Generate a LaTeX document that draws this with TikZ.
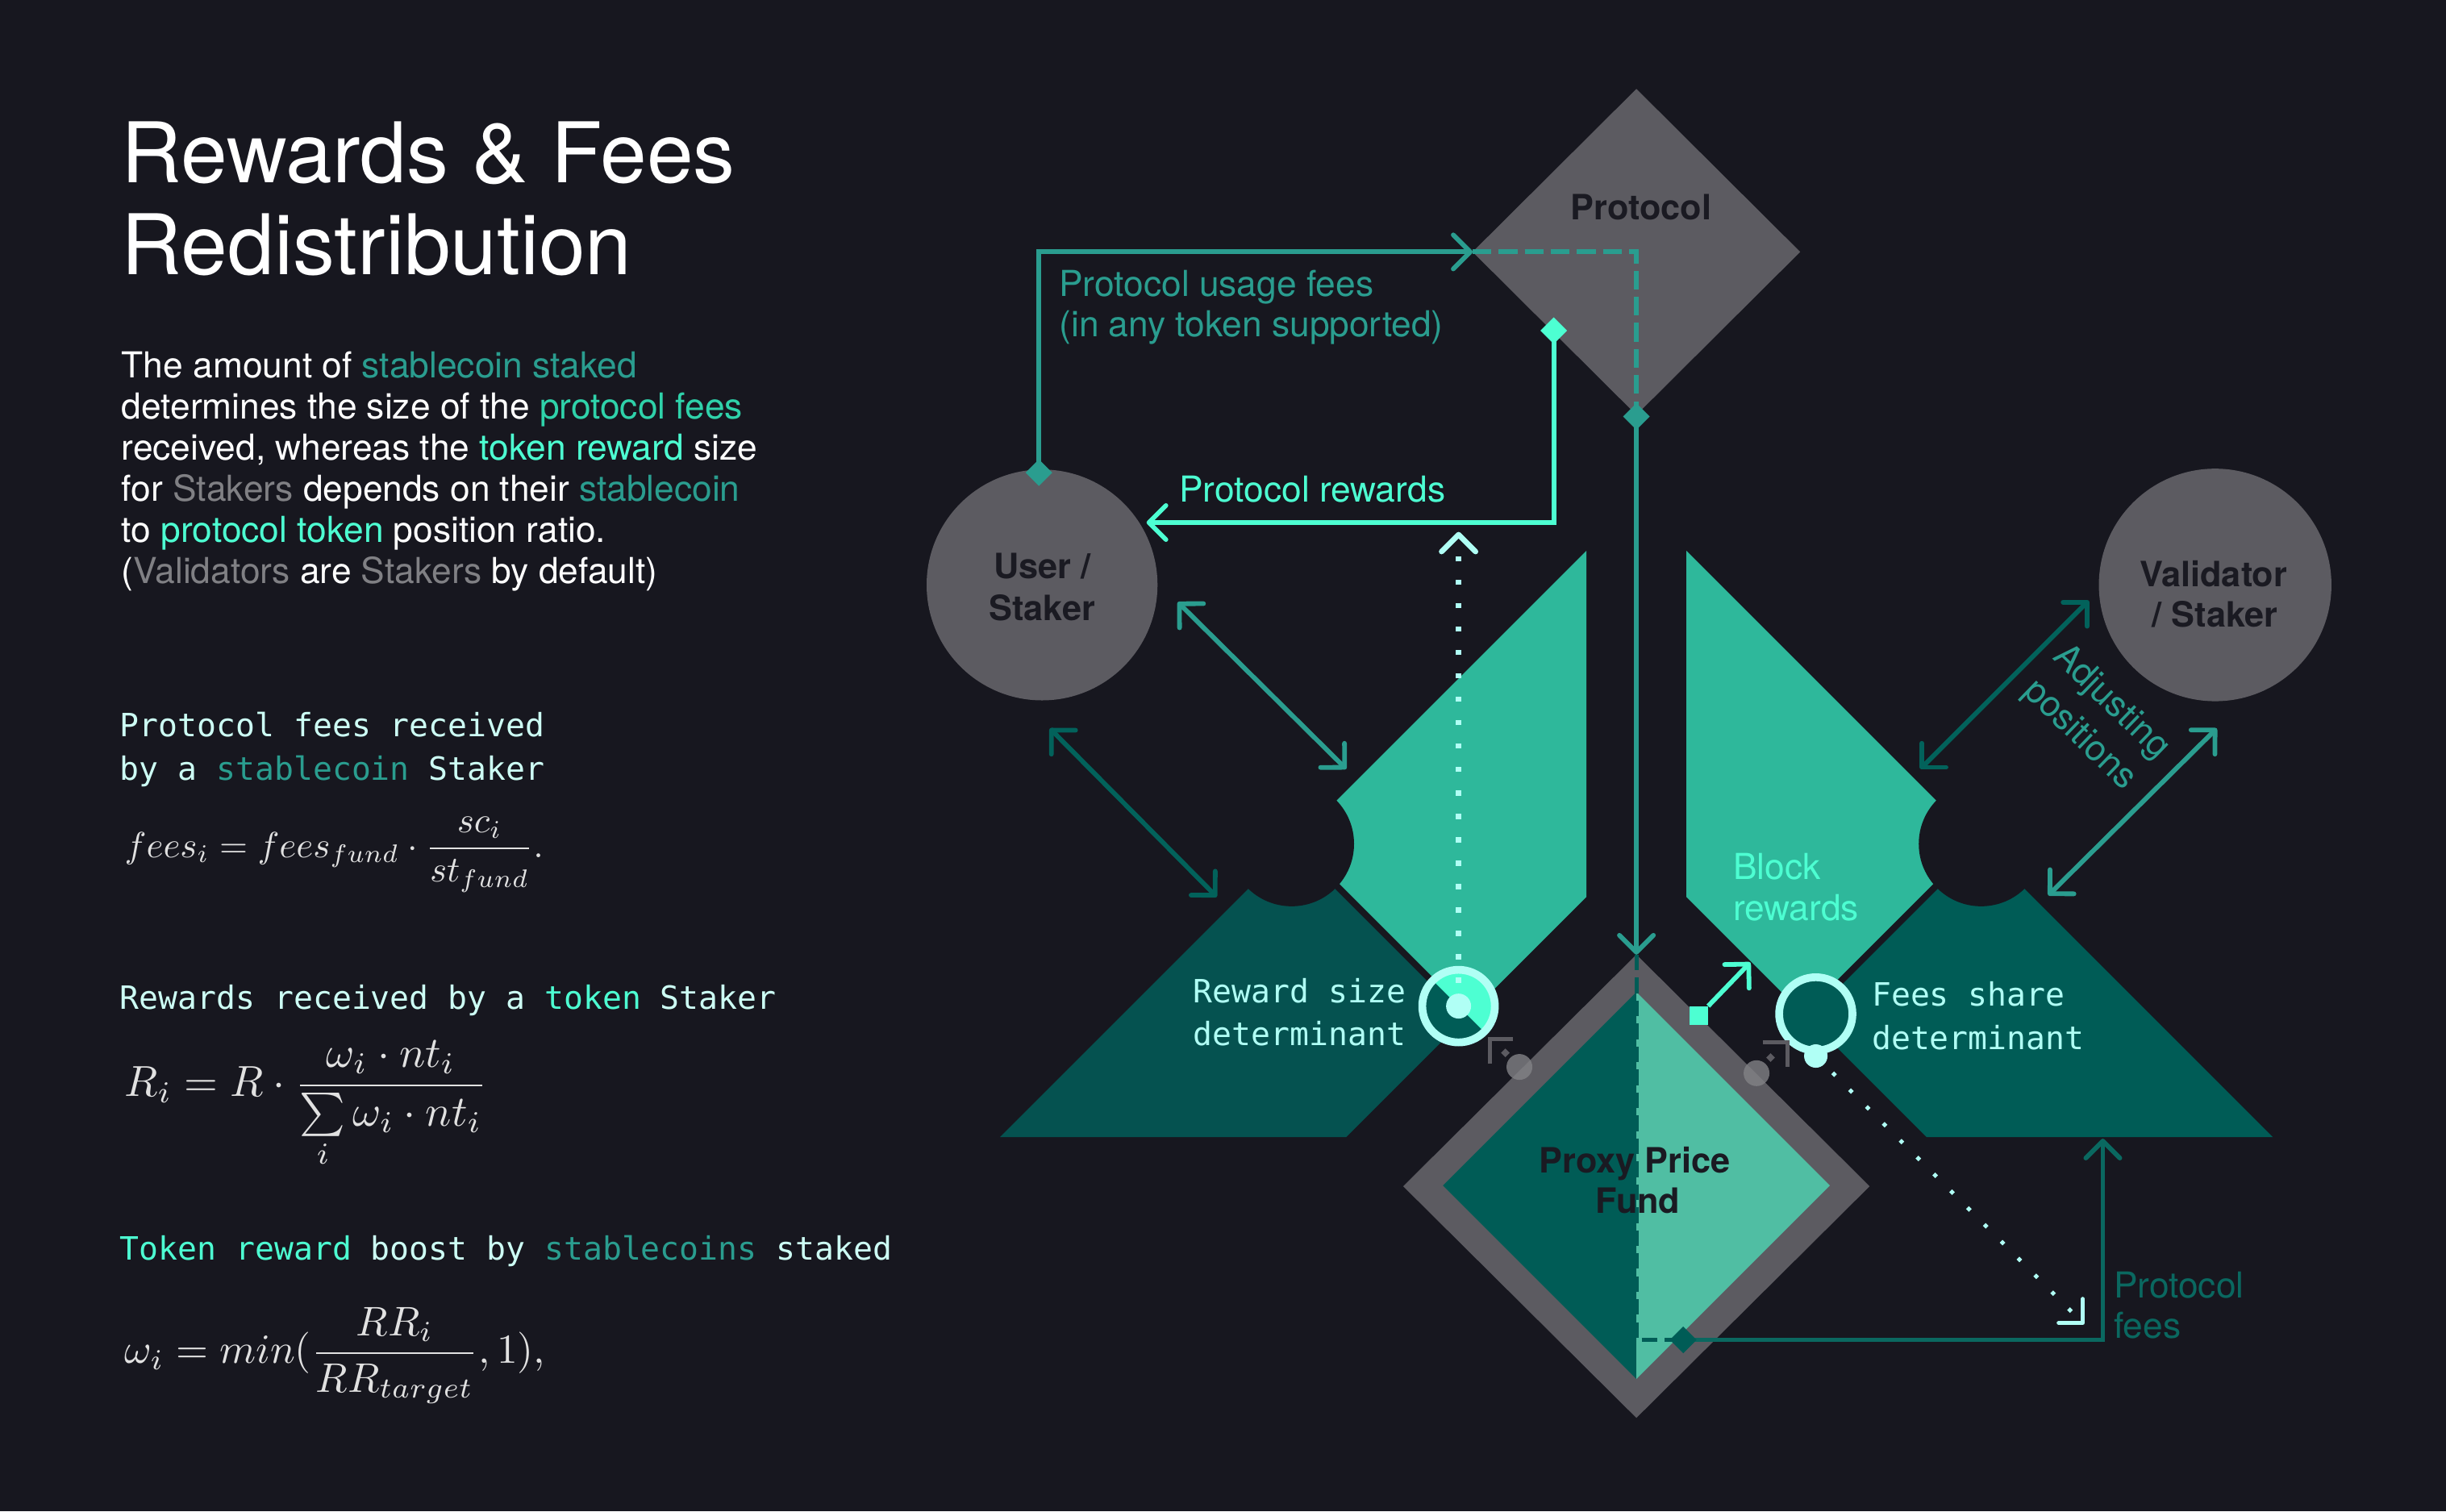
\documentclass[tikz,border=0pt]{standalone}
\usepackage[no-math]{fontspec}
\setmainfont{TeX Gyre Heros}
\setmonofont{DejaVu Sans Mono}
\usetikzlibrary{arrows.meta,shapes.geometric}
\definecolor{bg}{RGB}{23,23,31}
\definecolor{mint}{RGB}{77,255,210}
\definecolor{teallight}{RGB}{46,184,155}
\definecolor{tealmid}{RGB}{42,157,143}
\definecolor{tealbright}{RGB}{47,210,170}
\definecolor{tealdarkL}{RGB}{5,82,80}
\definecolor{tealdark}{RGB}{0,92,86}
\definecolor{tealdarkA}{RGB}{2,98,91}
\definecolor{tealfund}{RGB}{80,190,163}
\definecolor{stone}{RGB}{92,91,97}
\definecolor{pale}{RGB}{176,255,245}
\definecolor{ink}{RGB}{26,26,34}
\definecolor{mutedgray}{RGB}{128,128,132}
\definecolor{mathgray}{RGB}{225,225,225}
\definecolor{monowhite}{RGB}{205,255,245}
\definecolor{protofees}{RGB}{10,104,96}
\definecolor{hovergray}{RGB}{130,130,134}
\tikzset{
  vtip/.tip={Straight Barb[length=6pt,width=12pt,round]},
  flow/.style={line width=1.65pt},
  dashtop/.style={line width=1.65pt, tealmid, dash pattern=on 6.6pt off 2.6pt},
  funddash/.style={line width=1.4pt, tealdark, dash pattern=on 5.5pt off 2.6pt},
  dotline/.style={line width=1.9pt, pale, dash pattern=on 1.9pt off 6.35pt},
  diagdot/.style={line width=1.4pt, pale, dash pattern=on 1.4pt off 7pt},
  marker/.style={diamond, minimum width=9.4pt, minimum height=9.4pt},
  lab/.style={font=\bfseries\fontsize{12.3}{14}\selectfont, text=ink},
  body/.style={font=\fontsize{12.6}{14.5}\selectfont, text=white, anchor=base west},
  mono/.style={font=\ttfamily\fontsize{11.3}{15}\selectfont, text=monowhite, anchor=base west},
  titletext/.style={font=\fontsize{29.5}{32}\selectfont, text=white, anchor=base west},
  eq/.style={text=mathgray, anchor=west},
}
\begin{document}
\begin{tikzpicture}[x=0.55pt,y=-0.55pt, every node/.style={inner sep=0pt,outer sep=0pt}]
\fill[bg] (0,0) rectangle (1568,969);
\useasboundingbox (0,0) rectangle (1568,969);

% ---------- left column text ----------
\node[titletext] (title1) at (78,117) {Rewards \& Fees};
\node[titletext] (title2) at (78,176) {Redistribution};

\node[body] (b1) at (78,242) {The amount of \textcolor{tealmid}{stablecoin staked}};
\node[body] (b2) at (78,268.4) {determines the size of the \textcolor{tealbright}{protocol fees}};
\node[body] (b3) at (78,294.8) {received, whereas the \textcolor{mint}{token reward} size};
\node[body] (b4) at (78,321.2) {for \textcolor{mutedgray}{Stakers} depends on their \textcolor{tealmid}{stablecoin}};
\node[body] (b5) at (78,347.6) {to \textcolor{mint}{protocol token} position ratio.};
\node[body] (b6) at (78,374) {(\textcolor{mutedgray}{Validators} are \textcolor{mutedgray}{Stakers} by default)};

\node[mono] (h1a) at (77,472) {Protocol fees received};
\node[mono] (h1b) at (77,500) {by a \textcolor{tealmid}{stablecoin} Staker};
\node[eq, scale=1.28] (eqFees) at (80,548) {$\displaystyle fees_i = fees_{fund}\cdot\frac{sc_i}{st_{fund}}.$};

\node[mono] (h2) at (77,647) {Rewards received by a \textcolor{mint}{token} Staker};
\node[eq, scale=1.53] (eqR) at (80,708) {$\displaystyle R_i = R\cdot\frac{\omega_i\cdot nt_i}{\sum\limits_i\omega_i\cdot nt_i}$};

\node[mono] (h3) at (77,808) {\textcolor{mint}{Token reward} boost by \textcolor{tealmid}{stablecoins} staked};
\node[eq, scale=1.46] (eqW) at (80,869) {$\displaystyle \omega_i = min(\frac{RR_i}{RR_{target}},1),$};

% ---------- coloured bands ----------
\fill[teallight] (831,539) -- (942,650) -- (1017,575) -- (1017,353) -- cycle;
\fill[tealdarkL] (828,542) -- (641,729) -- (863,729) -- (939,653) -- cycle;
\fill[teallight] (1081,353) -- (1267,539) -- (1156,650) -- (1081,575) -- cycle;
\fill[tealdark] (1270,542) -- (1457,729) -- (1235,729) -- (1159,653) -- cycle;
\fill[bg] (828,541) circle [radius=40];
\fill[bg] (1270,541) circle [radius=40];

% ---------- main shapes ----------
\node[diamond, fill=stone, minimum width=164.45pt, minimum height=163.35pt] (proxy) at (1049,760.5) {};
\fill[tealdark] (1049,636) -- (925,760) -- (1049,884) -- cycle;
\fill[tealfund] (1049,636) -- (1173,760) -- (1049,884) -- cycle;

\node[diamond, fill=stone, minimum width=115.5pt, minimum height=114.95pt] (protocol) at (1049,161.5) {};
\node[circle, fill=stone, minimum size=81.4pt] (user) at (668,375) {};
\node[circle, fill=stone, minimum size=82pt] (validator) at (1420,375) {};

% ---------- coordinates ----------
\coordinate (cUser) at (666,303);
\coordinate (cRw) at (996,212);
\coordinate (cProto) at (1049,267);
\coordinate (fundTurn) at (1049,859);
\coordinate (cFund) at (1079,859);
\coordinate (feesIn) at (1348,730);
\coordinate (userIn) at (735,335);
\coordinate (dotTop) at (935,341);
\coordinate (feesEnd) at (1336,849);
\coordinate (mintTip) at (1122,617);
\coordinate (uA1) at (755,386);
\coordinate (uA2) at (863,493);
\coordinate (uB1) at (673,467);
\coordinate (uB2) at (780,575);
\coordinate (vA1) at (1339,385);
\coordinate (vA2) at (1231,493);
\coordinate (vB1) at (1421,467);
\coordinate (vB2) at (1313,574);

% ---------- reward size circle ----------
\coordinate (rwC) at (935,645);
\fill[tealdark] (rwC) circle [radius=24];
\begin{scope}
  \clip (rwC) circle [radius=24];
  \fill[mint] (rwC) ++(-40,-40) -- ++(80,80) -- ++(0,-80) -- cycle;
\end{scope}

% ---------- connectors ----------
\draw[flow, tealmid, -{vtip}] (cUser) |- (protocol.west);
\draw[dashtop] (protocol.west) -| (cProto);
\draw[flow, tealmid, -{vtip}] (cProto) -- (proxy.north);
\draw[funddash] (proxy.north) -- (fundTurn) -- (cFund);
\draw[flow, protofees, -{vtip}] (cFund) -| (feesIn);
\draw[flow, mint, -{vtip}] (cRw) |- (userIn);
\draw[dotline, -{vtip}] (rwC) -- (dotTop);

\draw[flow, tealmid, {vtip}-{vtip}] (uA1) -- (uA2);
\draw[flow, tealdarkA, {vtip}-{vtip}] (uB1) -- (uB2);
\draw[flow, tealdarkA, {vtip}-{vtip}] (vA1) -- (vA2);
\draw[flow, tealmid, {vtip}-{vtip}] (vB1) -- (vB2);

% ---------- circles on top ----------
\node[circle, draw=pale, line width=2.75pt, minimum size=25.6pt] (reward) at (rwC) {};
\node[circle, fill=pale, minimum size=8.8pt] (rwDot) at (rwC) {};
\node[circle, draw=pale, fill=tealdark, line width=2.75pt, minimum size=25.85pt] (feesShare) at (1164,650) {};
\node[circle, fill=pale, minimum size=8.25pt] (feesDot) at (1164,677) {};
\draw[diagdot, -{vtip}] (feesDot.center) -- (feesEnd);

\node[rectangle, fill=mint, minimum size=6.6pt] (mintSq) at (1089,651) {};
\draw[flow, mint, -{vtip}] (mintSq.north east) -- (mintTip);

% hover marks
\node[circle, fill=hovergray, opacity=0.8, minimum size=9.1pt] (hovL) at (974,684) {};
\node[circle, fill=hovergray, opacity=0.8, minimum size=9.1pt] (hovR) at (1126,688) {};
\draw[stone, line width=1.4pt] (955,682) -- (955,666) -- (970,666);
\draw[stone, line width=1.4pt] (1130,668) -- (1146,668) -- (1146,684);
\fill[stone] (965,675) +(0,-2.8) -- +(2.8,0) -- +(0,2.8) -- +(-2.8,0) -- cycle;
\fill[stone] (1135,678) +(0,-2.8) -- +(2.8,0) -- +(0,2.8) -- +(-2.8,0) -- cycle;

% markers
\node[marker, fill=tealmid] (mUser) at (cUser) {};
\node[marker, fill=mint] (mRw) at (cRw) {};
\node[marker, fill=tealmid] (mProto) at (cProto) {};
\node[marker, fill=tealdark] (mFund) at (cFund) {};

% ---------- labels ----------
\node[lab, anchor=base] (protoL) at (1052,141) {Protocol};
\node[lab, anchor=base] (userL1) at (668,371) {User /};
\node[lab, anchor=base] (userL2) at (668,398) {Staker};
\node[lab, anchor=base] (valL1) at (1419,376) {Validator};
\node[lab, anchor=base] (valL2) at (1420,402) {/ Staker};
\node[lab, anchor=base] (proxyL1) at (1048,752) {Proxy Price};
\node[lab, anchor=base] (proxyL2) at (1050,778) {Fund};

\node[body, text=tealmid] (usage1) at (679,190) {Protocol usage fees};
\node[body, text=tealmid] (usage2) at (679,216) {(in any token supported)};
\node[body, text=mint] (rwLab) at (756,322) {Protocol rewards};
\node[body, text=mint] (block1) at (1111,564) {Block};
\node[body, text=mint] (block2) at (1111,590) {rewards};
\node[body, text=protofees] (pf1) at (1355,832) {Protocol};
\node[body, text=protofees] (pf2) at (1355,858) {fees};
\node[rotate=-44, text=tealmid, font=\fontsize{12.6}{16}\selectfont, align=center] (adj) at (1343,461) {Adjusting\\positions};

\node[mono, text=pale] (rsd1) at (765,643) {Reward size};
\node[mono, text=pale] (rsd2) at (765,670) {determinant};
\node[mono, text=pale] (fsd1) at (1200,645) {Fees share};
\node[mono, text=pale] (fsd2) at (1200,673) {determinant};
\end{tikzpicture}
\end{document}
